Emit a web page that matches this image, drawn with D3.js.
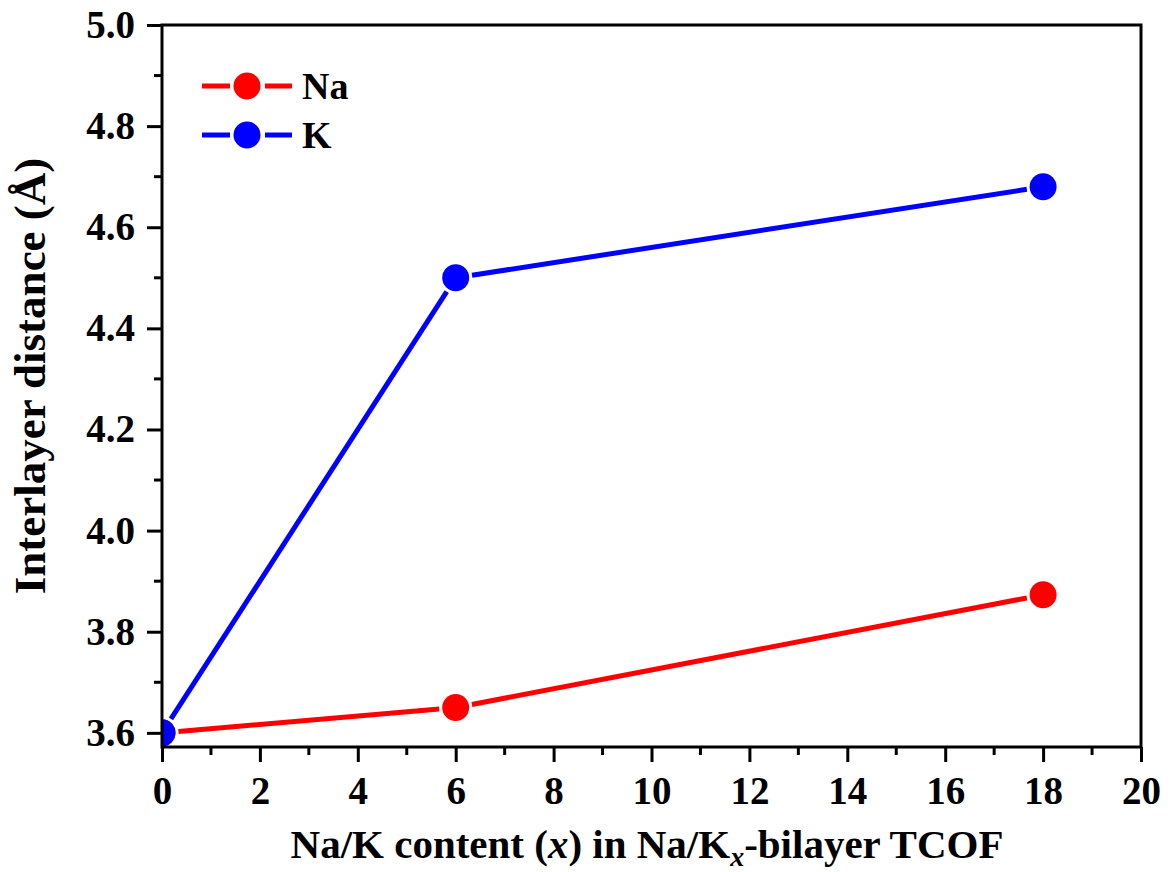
<!DOCTYPE html>
<html><head><meta charset="utf-8">
<script src="https://cdn.jsdelivr.net/npm/d3@7"></script>
<style>body{margin:0;background:#fff}svg{display:block}text{font-family:"Liberation Serif","Times New Roman",serif;font-weight:bold;fill:#000}</style>
</head><body>
<script>
const xValues = [0, 6, 18];
const naValues = [3.6, 3.65, 3.873];
const kValues = [3.6, 4.5, 4.68];
const seriesNames = ["Na", "K"];
const seriesColors = ["#ff0000", "#0000ff"];
const xTicks = [0, 2, 4, 6, 8, 10, 12, 14, 16, 18, 20];
const yTicks = [3.6, 3.8, 4.0, 4.2, 4.4, 4.6, 4.8, 5.0];

const W = 1170, H = 872;
const L = 162, R = 1141, T = 25, B = 747;
const svg = d3.select("body").append("svg").attr("width", W).attr("height", H);
const x = d3.scaleLinear().domain([0, 20]).range([L, R]);
const y = d3.scaleLinear().domain([3.572, 5.0]).range([B, T]);

svg.append("clipPath").attr("id", "clip").append("rect")
  .attr("x", L).attr("y", T).attr("width", R - L).attr("height", B - T);

const rad = 13.5, gap = 3;
const series = [naValues, kValues];
series.forEach((vals, si) => {
  const g = svg.append("g").attr("clip-path", "url(#clip)");
  const pts = xValues.map((xv, i) => [x(xv), y(vals[i])]);
  for (let i = 0; i < pts.length - 1; i++) {
    const [x1, y1] = pts[i], [x2, y2] = pts[i + 1];
    const dx = x2 - x1, dy = y2 - y1, len = Math.hypot(dx, dy);
    const ux = dx / len, uy = dy / len, o = rad + gap;
    g.append("line").attr("x1", x1 + ux * o).attr("y1", y1 + uy * o)
      .attr("x2", x2 - ux * o).attr("y2", y2 - uy * o)
      .attr("stroke", seriesColors[si]).attr("stroke-width", 5);
  }
  g.selectAll("circle").data(pts).join("circle")
    .attr("cx", d => d[0]).attr("cy", d => d[1]).attr("r", rad)
    .attr("fill", seriesColors[si]);
});

// axes
const fs = 39;
const xAxis = d3.axisBottom(x).tickValues(xTicks).tickFormat(d3.format("d")).tickSize(15).tickPadding(14);
const gx = svg.append("g").attr("transform", `translate(0,${B})`).call(xAxis);
gx.select(".domain").remove();
gx.selectAll("line").attr("stroke", "#000").attr("stroke-width", 3);
gx.selectAll("text").style("font-size", fs + "px");

const xMinor = d3.range(1, 20, 2);
svg.append("g").selectAll("line").data(xMinor).join("line")
  .attr("x1", d => x(d)).attr("x2", d => x(d)).attr("y1", B).attr("y2", B + 8)
  .attr("stroke", "#000").attr("stroke-width", 3);

const yAxis = d3.axisLeft(y).tickValues(yTicks).tickFormat(d3.format(".1f")).tickSize(15).tickPadding(12);
const gy = svg.append("g").attr("transform", `translate(${L},0)`).call(yAxis);
gy.select(".domain").remove();
gy.selectAll("line").attr("stroke", "#000").attr("stroke-width", 3);
gy.selectAll("text").style("font-size", fs + "px");

const yMinor = d3.range(3.7, 5.0, 0.2);
svg.append("g").selectAll("line").data(yMinor).join("line")
  .attr("x1", L - 8).attr("x2", L).attr("y1", d => y(d)).attr("y2", d => y(d))
  .attr("stroke", "#000").attr("stroke-width", 3);

svg.append("rect").attr("x", L).attr("y", T).attr("width", R - L).attr("height", B - T)
  .attr("fill", "none").attr("stroke", "#000").attr("stroke-width", 3);

// axis titles
const xt = svg.append("text").attr("x", 647).attr("y", 858).attr("text-anchor", "middle")
  .style("font-size", "41px");
xt.append("tspan").text("Na/K content (");
xt.append("tspan").text("x").style("font-style", "italic");
xt.append("tspan").text(") in Na/K");
xt.append("tspan").text("x").style("font-style", "italic").attr("dy", 8).style("font-size", "28px");
xt.append("tspan").text("-bilayer TCOF").attr("dy", -8);

svg.append("text").attr("transform", `translate(45,376) rotate(-90)`)
  .attr("text-anchor", "middle").style("font-size", "45px").text("Interlayer distance (Å)");

// legend
const legY = [86, 135];
seriesNames.forEach((n, i) => {
  const g = svg.append("g");
  g.append("line").attr("x1", 202).attr("x2", 230).attr("y1", legY[i]).attr("y2", legY[i])
    .attr("stroke", seriesColors[i]).attr("stroke-width", 5);
  g.append("line").attr("x1", 265).attr("x2", 292).attr("y1", legY[i]).attr("y2", legY[i])
    .attr("stroke", seriesColors[i]).attr("stroke-width", 5);
  g.append("circle").attr("cx", 247).attr("cy", legY[i]).attr("r", rad).attr("fill", seriesColors[i]);
  g.append("text").attr("x", 302).attr("y", legY[i]).attr("dy", "0.35em").style("font-size", "38px").text(n);
});
</script>
</body></html>
